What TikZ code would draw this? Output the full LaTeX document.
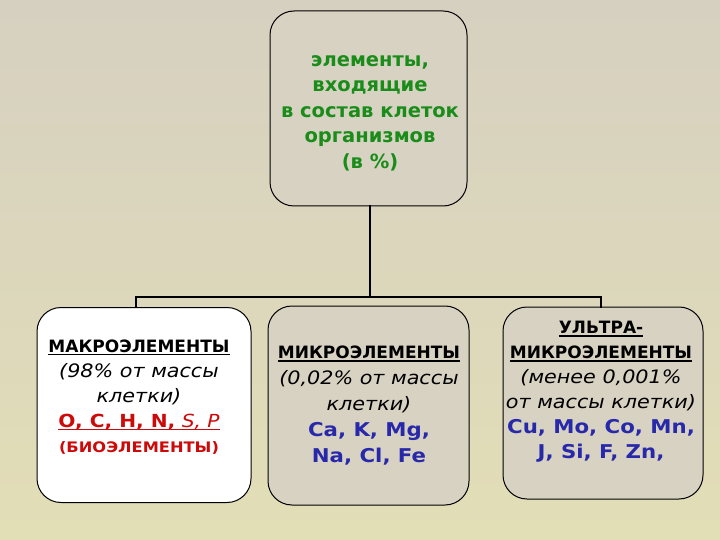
\documentclass[tikz,border=0pt]{standalone}
\usepackage{fontspec}
\setmainfont{DejaVu Sans}
\newfontfamily\widefont{DejaVu Sans}[FakeStretch=1.12]
\newcommand{\myul}[1]{\setbox0\hbox{#1}\rlap{\rule[-3pt]{\wd0}{1.5pt}}\box0}
\newcommand{\itl}[1]{{\widefont\itshape\fontsize{18.5}{25}\selectfont #1}}
\newcommand{\bll}[1]{{\color{tblue}\widefont\bfseries\fontsize{19}{25}\selectfont #1}}
\definecolor{bgtop}{RGB}{214,208,193}
\definecolor{bgbot}{RGB}{226,222,182}
\definecolor{boxfill}{RGB}{216,210,194}
\definecolor{tgreen}{RGB}{25,140,25}
\definecolor{tred}{RGB}{205,10,10}
\definecolor{tblue}{RGB}{40,40,170}
\begin{document}
\begin{tikzpicture}[x=1pt,y=-1pt,
  box/.style={draw=black, line width=1pt, rounded corners=24pt, inner sep=0pt},
  conn/.style={line width=2pt, line cap=rect},
  txt/.style={align=center, inner sep=0pt, font=\fontsize{17}{25}\selectfont}]
\useasboundingbox (0,0) rectangle (720,540);
\shade[top color=bgtop, bottom color=bgbot] (0,0) rectangle (720,540);

\node[box, fill=boxfill, minimum width=197pt, minimum height=195pt] (top) at (368.5,108.5) {};
\node[box, fill=white, minimum width=214pt, minimum height=195pt] (macro) at (144,405) {};
\node[box, fill=boxfill, minimum width=201pt, minimum height=199pt] (micro) at (368.5,405.5) {};
\node[box, fill=boxfill, minimum width=200pt, minimum height=192pt] (ultra) at (603,403) {};

\coordinate (j) at (370,297);
\coordinate (jl) at (136,297);
\coordinate (jr) at (601,297);
\draw[conn] (top.south -| j) -- (j);
\draw[conn] (jl) -- (jr);
\draw[conn] (jl) -- (jl |- macro.north);
\draw[conn] (jr) -- (jr |- ultra.north);

\node[txt, text=tgreen, font=\fontsize{19.5}{25.5}\selectfont\bfseries] (toptxt) at (370,113)
  {элементы,\\входящие\\в состав клеток\\организмов\\(в \%)};

\node[txt] (macrotxt) at (139,397)
  {\myul{\textbf{МАКРОЭЛЕМЕНТЫ}}\\
   \itl{(98\% от массы}\\
   \itl{клетки)}\\
   {\color{tred}\widefont\fontsize{18}{25}\selectfont\myul{\textbf{O, C, H, N,} \textit{S, P}}}\\
   {\color{tred}\widefont\bfseries\fontsize{14.5}{25}\selectfont(БИОЭЛЕМЕНТЫ)}};

\node[txt, font=\fontsize{17}{25.8}\selectfont] (microtxt) at (369,405.5)
  {\myul{\textbf{МИКРОЭЛЕМЕНТЫ}}\\
   \itl{(0,02\% от массы}\\
   \itl{клетки)}\\
   \bll{Ca, K,\ Mg,}\\
   \bll{Na, Cl, Fe}};

\node[txt] (ultratxt) at (601,392)
  {\myul{\textbf{УЛЬТРА-}}\\
   \myul{\textbf{МИКРОЭЛЕМЕНТЫ}}\\
   \itl{(менее 0,001\%}\\
   \itl{от массы клетки)}\\
   \bll{Cu, Mo, Co, Mn,}\\
   \bll{J, Si, F, Zn,}};
\end{tikzpicture}
\end{document}
